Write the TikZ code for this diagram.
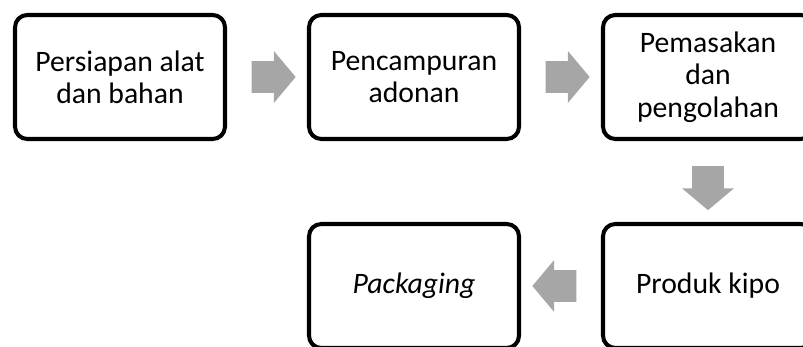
\documentclass[tikz,border=0pt]{standalone}
\usepackage{fontspec}
\setmainfont{Carlito}
\usetikzlibrary{shapes.arrows,calc}
\definecolor{abu}{RGB}{166,166,166}

\begin{document}
\begin{tikzpicture}[font=\fontsize{16.9}{18.4}\selectfont,
    kotak/.style={draw, line width=2.3pt, rounded corners=7pt, fill=white, minimum width=4.2cm, minimum height=2.48cm, align=center},
    panah/.style={single arrow, fill=abu, draw=none, minimum height=0.88cm, inner xsep=0pt, inner ysep=0.31cm, single arrow head extend=0.2cm, single arrow tip angle=100, outer sep=0pt}]
        \useasboundingbox (0,0) rectangle (16.06,-6.94);

        % Etapes (ligne du haut)
        \node[kotak] (persiapan) at (2.4,-1.54) {Persiapan alat\\dan bahan};
        \node[kotak] (pencampuran) at (8.28,-1.54) {Pencampuran\\adonan};
        \node[kotak] (pemasakan) at (14.16,-1.54) {Pemasakan\\dan\\pengolahan};

        % Etapes (ligne du bas, de droite a gauche)
        \node[kotak] (produk) at (14.16,-5.72) {Produk kipo};
        \node[kotak] (packaging) at (8.28,-5.72) {\itshape Packaging};

        % Fleches grises entre les etapes
        \node[panah] (p1) at ($(persiapan.east)!0.5!(pencampuran.west)$) {};
        \node[panah] (p2) at ($(pencampuran.east)!0.5!(pemasakan.west)$) {};
        \node[panah, rotate=-90] (p3) at ($(pemasakan.south)!0.5!(produk.north)$) {};
        \node[panah, rotate=180] (p4) at ($(produk.west)!0.5!(packaging.east)$) {};
    \end{tikzpicture}
\end{document}
